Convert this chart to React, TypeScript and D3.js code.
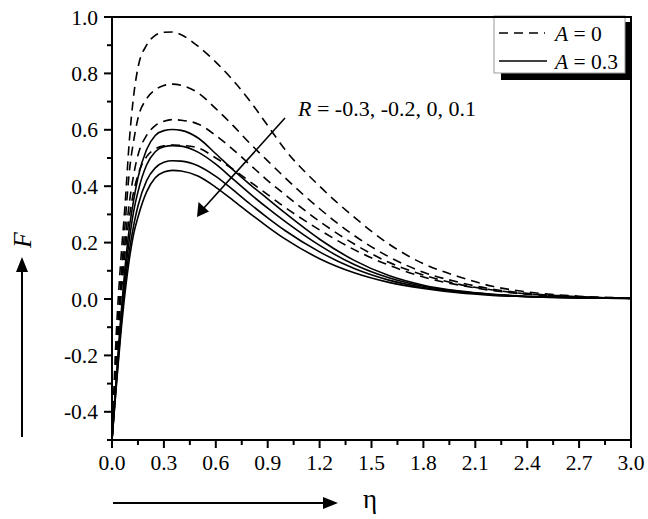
import React from "react";
import * as d3 from "d3";

const etaGrid = [0, 0.025, 0.05, 0.075, 0.1, 0.125, 0.15, 0.2, 0.25, 0.3, 0.35, 0.4, 0.5, 0.6, 0.7, 0.8, 0.9, 1.0, 1.2, 1.4, 1.6, 1.8, 2.0, 2.2, 2.4, 2.7, 3.0];

// A = 0 (dashed), R = -0.3, -0.2, 0, 0.1
const dashedR1 = [-0.5, -0.12, 0.13, 0.33, 0.56, 0.72, 0.82, 0.9, 0.935, 0.946, 0.947, 0.937, 0.895, 0.84, 0.775, 0.7, 0.615, 0.53, 0.4, 0.29, 0.195, 0.125, 0.08, 0.045, 0.025, 0.01, 0.003];
const dashedR2 = [-0.5, -0.2, 0.05, 0.26, 0.45, 0.56, 0.64, 0.71, 0.742, 0.757, 0.762, 0.758, 0.73, 0.675, 0.615, 0.55, 0.49, 0.43, 0.32, 0.225, 0.15, 0.095, 0.06, 0.035, 0.02, 0.008, 0.003];
const dashedR3 = [-0.5, -0.22, 0.02, 0.2, 0.34, 0.44, 0.51, 0.58, 0.615, 0.63, 0.636, 0.634, 0.62, 0.58, 0.53, 0.475, 0.42, 0.37, 0.275, 0.195, 0.13, 0.085, 0.053, 0.032, 0.018, 0.007, 0.002];
const dashedR4 = [-0.5, -0.24, -0.01, 0.16, 0.29, 0.38, 0.44, 0.505, 0.532, 0.543, 0.546, 0.545, 0.535, 0.5, 0.46, 0.415, 0.37, 0.325, 0.245, 0.175, 0.12, 0.078, 0.05, 0.03, 0.017, 0.007, 0.002];

// A = 0.3 (solid)
const solidR1 = [-0.5, -0.28, -0.07, 0.11, 0.25, 0.35, 0.43, 0.53, 0.58, 0.597, 0.601, 0.598, 0.57, 0.515, 0.458, 0.405, 0.355, 0.305, 0.212, 0.137, 0.083, 0.049, 0.029, 0.017, 0.01, 0.005, 0.003];
const solidR2 = [-0.5, -0.29, -0.09, 0.08, 0.21, 0.31, 0.38, 0.475, 0.522, 0.54, 0.544, 0.542, 0.52, 0.478, 0.425, 0.372, 0.322, 0.275, 0.19, 0.122, 0.075, 0.045, 0.027, 0.016, 0.009, 0.005, 0.003];
const solidR3 = [-0.5, -0.3, -0.11, 0.05, 0.17, 0.26, 0.33, 0.42, 0.465, 0.485, 0.49, 0.489, 0.472, 0.435, 0.387, 0.336, 0.288, 0.243, 0.167, 0.108, 0.067, 0.041, 0.025, 0.015, 0.008, 0.004, 0.002];
const solidR4 = [-0.5, -0.31, -0.13, 0.02, 0.14, 0.23, 0.29, 0.38, 0.43, 0.45, 0.456, 0.454, 0.435, 0.396, 0.35, 0.302, 0.256, 0.213, 0.143, 0.093, 0.059, 0.037, 0.022, 0.013, 0.008, 0.004, 0.002];

const dashedSeries = [dashedR1, dashedR2, dashedR3, dashedR4];
const solidSeries = [solidR1, solidR2, solidR3, solidR4];

const xTicks = [0, 0.3, 0.6, 0.9, 1.2, 1.5, 1.8, 2.1, 2.4, 2.7, 3.0];
const yTicks = [-0.4, -0.2, 0.0, 0.2, 0.4, 0.6, 0.8, 1.0];

const legendLabels = ["0", "0.3"];
const annotation = "= -0.3, -0.2, 0, 0.1";

const W = 648;
const H = 519;
const L = 112, R = 631, T = 17, B = 440;
const FONT = '"Liberation Serif", "Times New Roman", "DejaVu Serif", serif';

export default function App() {
  const x = d3.scaleLinear().domain([0, 3]).range([L, R]);
  const y = d3.scaleLinear().domain([-0.5, 1.0]).range([B, T]);

  const line = (vals: number[]) =>
    d3
      .line<number>()
      .x((_, i) => x(etaGrid[i]))
      .y((v) => y(v))
      .curve(d3.curveMonotoneX)(vals) || "";

  const xMinor = d3.range(0, 3.0001, 0.15);
  const yMinor = d3.range(-0.5, 1.0001, 0.1);
  const tf = { fontFamily: FONT };

  return (
    <div style={{ position: "absolute", left: 0, top: 0 }}>
      <svg width={W} height={H} viewBox={`0 0 ${W} ${H}`} style={{ display: "block", background: "#fff", fontFamily: FONT }}>
        <defs>
          <clipPath id="plotclip">
            <rect x={L} y={T} width={R - L} height={B - T} />
          </clipPath>
        </defs>
        <rect x={0} y={0} width={W} height={H} fill="#fff" />

        <g clipPath="url(#plotclip)" fill="none" stroke="#000">
          {dashedSeries.map((s, i) => (
            <path key={"d" + i} d={line(s)} strokeWidth={1.6} strokeDasharray="9,6" />
          ))}
          {solidSeries.map((s, i) => (
            <path key={"s" + i} d={line(s)} strokeWidth={1.6} />
          ))}
        </g>

        <rect x={L} y={T} width={R - L} height={B - T} fill="none" stroke="#000" strokeWidth={2} />

        <g stroke="#000" strokeWidth={2}>
          {xMinor.map((v, i) => (
            <line key={"xm" + i} x1={x(v)} x2={x(v)} y1={B} y2={B + (i % 2 === 0 ? 8 : 5)} />
          ))}
          {yMinor.map((v, i) => (
            <line key={"ym" + i} x1={L} x2={L - (i % 2 === 1 ? 8 : 5)} y1={y(v)} y2={y(v)} />
          ))}
        </g>
        <g style={tf} fontSize={21.5} fill="#000">
          {xTicks.map((v) => (
            <text key={"xl" + v} x={x(v)} y={470} textAnchor="middle" style={tf}>
              {v.toFixed(1)}
            </text>
          ))}
          {yTicks.map((v) => (
            <text key={"yl" + v} x={98} y={y(v)} dy="0.35em" textAnchor="end" style={tf}>
              {v.toFixed(1)}
            </text>
          ))}
        </g>

        <rect x={501} y={22} width={131} height={58} fill="#000" />
        <rect x={494} y={16} width={131} height={57} fill="#fff" stroke="#999" strokeWidth={1} />
        <line x1={L} x2={R} y1={T} y2={T} stroke="#000" strokeWidth={2} />
        <line x1={499} x2={545} y1={33} y2={33} stroke="#000" strokeWidth={1.6} strokeDasharray="9,6" />
        <line x1={499} x2={547} y1={61} y2={61} stroke="#000" strokeWidth={1.6} />
        <text x={555} y={41} fontSize={21.5} style={tf}>
          <tspan fontStyle="italic">A</tspan> = {legendLabels[0]}
        </text>
        <text x={555} y={69} fontSize={21.5} style={tf}>
          <tspan fontStyle="italic">A</tspan> = {legendLabels[1]}
        </text>

        <text x={298} y={116} fontSize={22} style={tf}>
          <tspan fontStyle="italic">R</tspan> {annotation}
        </text>
        <line x1={285} y1={118} x2={203} y2={209} stroke="#000" strokeWidth={1.6} />
        <path d="M197,217 L198.5,202 L209,211.5 Z" fill="#000" />

        <line x1={22} x2={22} y1={437} y2={268} stroke="#000" strokeWidth={2} />
        <path d="M22,257 L16,272 L28,272 Z" fill="#000" />
        <text x={0} y={0} transform="translate(31,240) rotate(-90)" fontSize={26} fontStyle="italic" textAnchor="middle" style={tf}>
          F
        </text>

        <line x1={113} x2={326} y1={503} y2={503} stroke="#000" strokeWidth={2} />
        <path d="M338,503 L323,497 L323,509 Z" fill="#000" />
        <text x={363} y={508} fontSize={27} style={tf}>
          η
        </text>
      </svg>
    </div>
  );
}
